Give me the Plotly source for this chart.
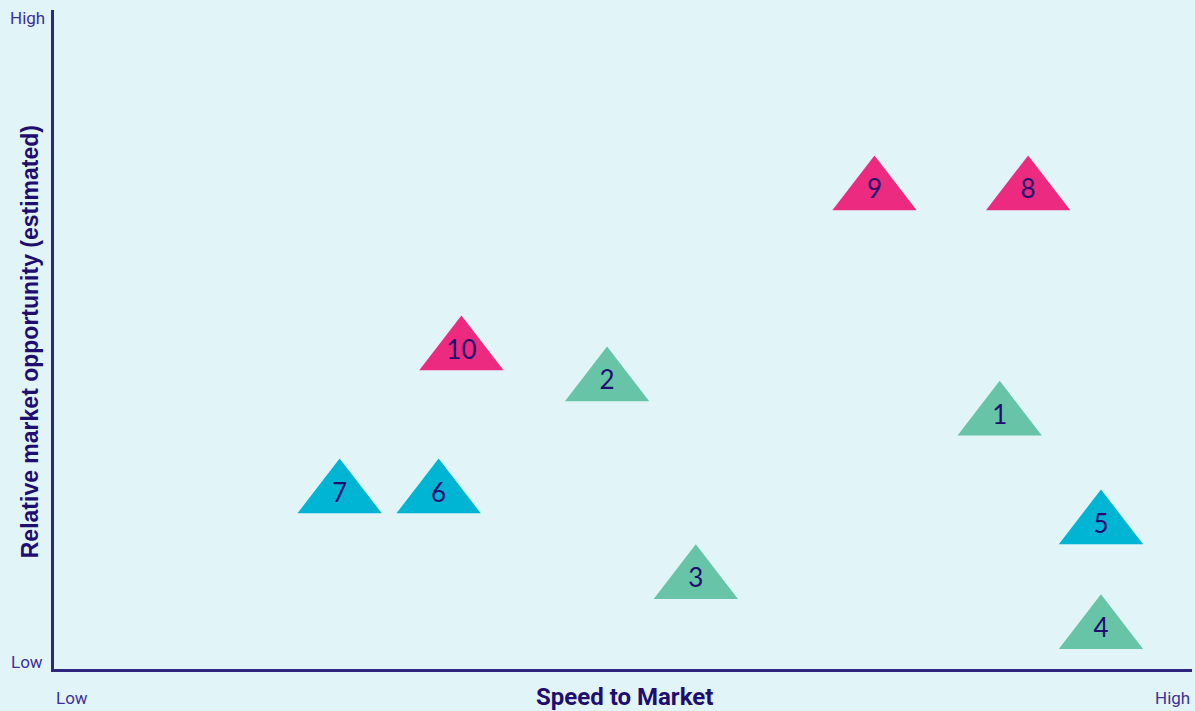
import plotly.graph_objects as go

# values (0 = low, 100 = high)
labels = ["1", "2", "3", "4", "5", "6", "7", "8", "9", "10"]
speed = [83.1, 48.6, 56.4, 92.0, 92.0, 33.8, 25.1, 85.6, 72.1, 35.8]
opportunity = [38.2, 43.4, 13.4, 5.8, 21.7, 26.4, 26.4, 72.4, 72.4, 48.1]
groups = ["green", "green", "green", "green", "blue", "blue", "blue", "pink", "pink", "pink"]

palette = {"green": "#67C4A6", "blue": "#00B5D3", "pink": "#EC2A7F"}
navy = "#1F0D70"
tick_col = "#3E2F96"
bg = "#E1F5F9"

fig = go.Figure()

fig.add_trace(
    go.Scatter(
        x=speed,
        y=opportunity,
        mode="markers+text",
        text=labels,
        textposition="middle center",
        textfont=dict(family="Lato", size=26, color=navy),
        marker=dict(
            symbol="triangle-up",
            size=73,
            color=[palette[g] for g in groups],
            line=dict(width=0),
        ),
        hoverinfo="text",
        showlegend=False,
    )
)

fig.update_layout(
    width=1195,
    height=711,
    paper_bgcolor=bg,
    plot_bgcolor=bg,
    margin=dict(l=54, r=3, t=10, b=42),
    xaxis=dict(
        range=[0, 100],
        showgrid=False,
        zeroline=False,
        showticklabels=False,
        showline=True,
        linecolor="#2D2782",
        linewidth=3,
    ),
    yaxis=dict(
        range=[0, 100],
        showgrid=False,
        zeroline=False,
        showticklabels=False,
        showline=True,
        linecolor="#2D2782",
        linewidth=3,
    ),
    annotations=[
        dict(xref="paper", yref="paper", x=0.501, y=-0.042, yanchor="middle",
             text="<b>Speed to Market</b>", showarrow=False,
             font=dict(family="Roboto", size=24, color=navy)),
        dict(xref="paper", yref="paper", x=-0.021, y=0.496, xanchor="center", textangle=-90,
             text="<b>Relative market opportunity (estimated)</b>", showarrow=False,
             font=dict(family="Liberation Sans", size=23, color=navy)),
        dict(xref="paper", yref="paper", x=0, y=-0.044, xanchor="left", yanchor="middle",
             text="Low", showarrow=False,
             font=dict(family="Roboto", size=17, color=tick_col)),
        dict(xref="paper", yref="paper", x=1, y=-0.044, xanchor="right", yanchor="middle",
             text="High", showarrow=False,
             font=dict(family="Roboto", size=17, color=tick_col)),
        dict(xref="paper", yref="paper", x=-0.006, y=0.988, xanchor="right", yanchor="middle",
             text="High", showarrow=False,
             font=dict(family="Roboto", size=17, color=tick_col)),
        dict(xref="paper", yref="paper", x=-0.008, y=0.01, xanchor="right", yanchor="middle",
             text="Low", showarrow=False,
             font=dict(family="Roboto", size=17, color=tick_col)),
    ],
)

fig.write_html(
    "out.html",
    config=dict(displayModeBar=False),
    post_script="document.body.style.margin='0';document.body.style.background='#E1F5F9';",
)
